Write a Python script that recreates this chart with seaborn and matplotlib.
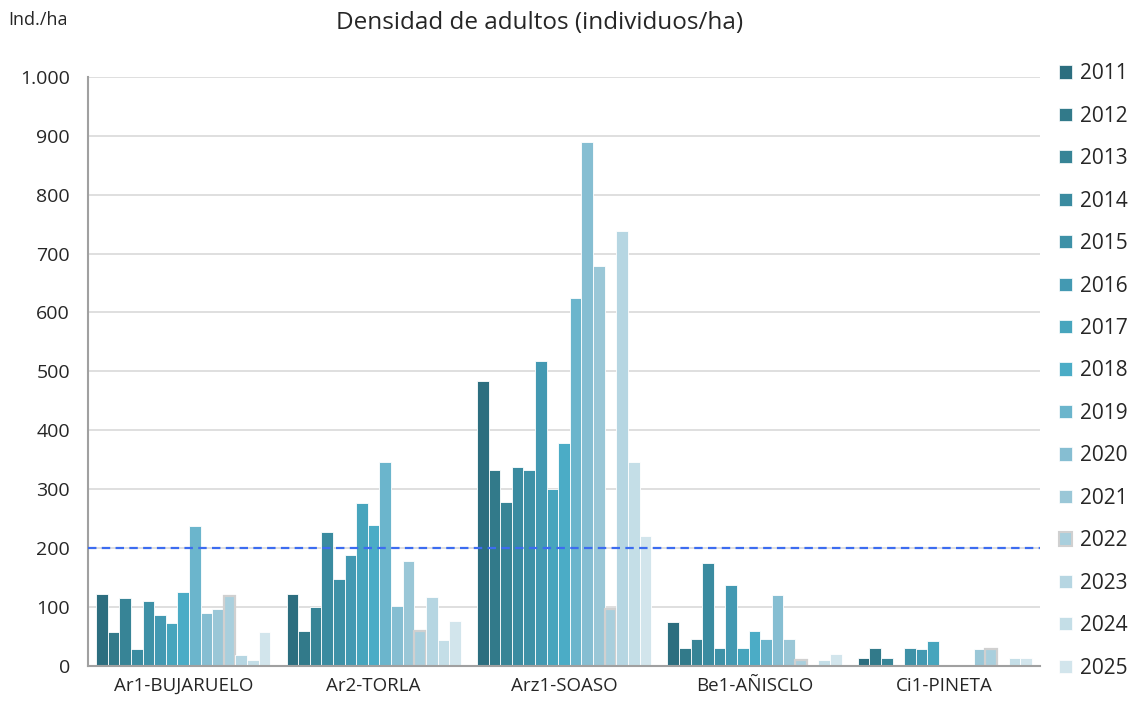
import pandas as pd
import matplotlib.pyplot as plt
import seaborn as sns
from matplotlib.patches import Patch
from matplotlib.ticker import FuncFormatter

# ---------------------------
# Data
# ---------------------------
sites = ["Ar1-BUJARUELO", "Ar2-TORLA", "Arz1-SOASO", "Be1-AÑISCLO", "Ci1-PINETA"]
years = [str(y) for y in range(2011, 2026)]

ar1 = [122, 58, 115, 28, 111, 87, 73, 126, 238, 90, 96, 118, 19, 11, 58]
ar2 = [123, 59, 100, 228, 148, 189, 276, 239, 347, 101, 179, 59, 117, 44, 77]
arz1 = [483, 333, 279, 338, 332, 517, 301, 378, 624, 889, 679, 96, 739, 346, 221]
be1 = [75, 30, 45, 175, 30, 137, 30, 60, 45, 121, 45, 10, 0, 10, 21]
ci1 = [14, 30, 14, 0, 30, 28, 42, 0, 0, 0, 28, 28, 0, 14, 14]

threshold = 200

colors = ["#2C6E7F", "#327A8A", "#378496", "#3A8BA0", "#3E91A7", "#4399B2",
          "#47A5BD", "#4BACC6", "#6BB5CC", "#86BED2", "#9AC7D7", "#A9CFDD",
          "#B6D6E2", "#C4DEE7", "#D2E5EC"]

rows = []
for site, vals in zip(sites, [ar1, ar2, arz1, be1, ci1]):
    for yr, v in zip(years, vals):
        rows.append({"site": site, "year": yr, "density": v})
df = pd.DataFrame(rows)

# ---------------------------
# Plot
# ---------------------------
sns.set_style("white")
plt.rcParams["font.family"] = ["Open Sans", "DejaVu Sans"]

fig = plt.figure(figsize=(11.36, 7.04), dpi=100)
ax = fig.add_axes([0.0775, 0.054, 0.838, 0.837])

ax.yaxis.grid(True, color="#D9D9D9", lw=1.2, zorder=0)
ax.set_axisbelow(True)

sns.barplot(data=df, x="site", y="density", hue="year", palette=colors,
            saturation=1, width=0.915, edgecolor="white", linewidth=0.6,
            ax=ax, zorder=2)

# 2022 bars have a grey outline
for p in ax.containers[11]:
    p.set_edgecolor("#D0D0D0")
    p.set_linewidth(1.6)

ax.axhline(threshold, color="#3C6CF0", ls=(0, (3.8, 2.4)), lw=1.6, zorder=3)

ax.set_ylim(0, 1000)
ax.set_xlim(-0.5, len(sites) - 0.5)
ax.set_yticks(range(0, 1001, 100))
ax.yaxis.set_major_formatter(FuncFormatter(lambda v, p: f"{int(v):,}".replace(",", ".")))
ax.tick_params(axis="y", labelsize=14, length=5, color="#A0A0A0", width=1.2, pad=8)
ax.tick_params(axis="x", labelsize=13.5, length=0, pad=8)
ax.set_xticks([i - 0.5 for i in range(len(sites) + 1)], minor=True)
ax.tick_params(axis="x", which="minor", length=6, color="#A0A0A0", width=1.2)
ax.set_xlabel("")
ax.set_ylabel("")

for s in ["top", "right"]:
    ax.spines[s].set_visible(False)
for s in ["left", "bottom"]:
    ax.spines[s].set_color("#A0A0A0")
    ax.spines[s].set_linewidth(1.5)

ax.legend_.remove()
handles = []
for yr, c in zip(years, colors):
    if yr == "2022":
        handles.append(Patch(facecolor=c, edgecolor="#D0D0D0", lw=1.5, label=yr))
    else:
        handles.append(Patch(facecolor=c, edgecolor="white", lw=0.5, label=yr))
fig.legend(handles=handles, loc="upper left", bbox_to_anchor=(0.925, 0.922),
           frameon=False, fontsize=15, handlelength=0.6, handleheight=0.6,
           handletextpad=0.4, labelspacing=1.03, borderaxespad=0)

fig.text(0.475, 0.968, "Densidad de adultos (individuos/ha)", ha="center", va="center",
         fontsize=17.5)
fig.text(0.007, 0.971, "Ind./ha", ha="left", va="center", fontsize=13)

plt.savefig("out.png", dpi=100)
